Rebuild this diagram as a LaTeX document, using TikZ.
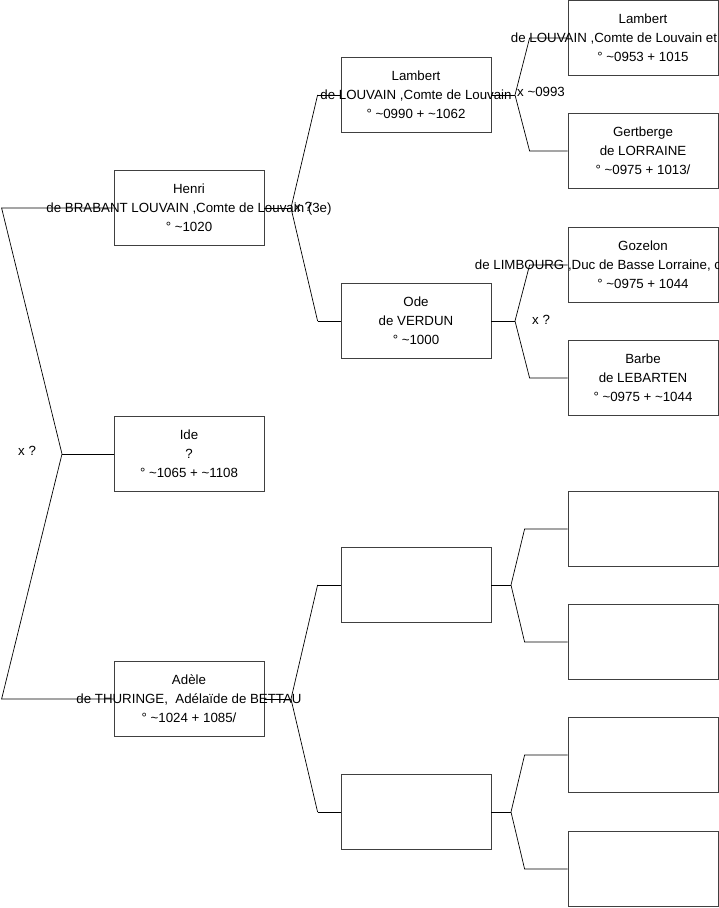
\documentclass[tikz,border=0pt]{standalone}
\usepackage{fontspec}
\setmainfont{Liberation Sans}
\usetikzlibrary{positioning}

\newcommand\pline[1]{\makebox[150pt]{#1}}

\begin{document}
\begin{tikzpicture}[x=1pt, y=-1pt,
    person/.style = {
      rectangle, draw=black!75, line width=0.8pt,
      minimum width=150pt, minimum height=75pt,
      inner sep=0pt, align=center,
      font=\fontsize{13.3}{19}\selectfont
    },
    link/.style    = {line width=0.7pt, color=black},
    mariage/.style = {anchor=west, inner sep=0pt, font=\fontsize{13.3}{15}\selectfont}
  ]

  \useasboundingbox (0,0) rectangle (719,908);

  % Column 1 -- x=189
  \node[person] at (189, 208) (henri) {\pline{Henri}\\\pline{de BRABANT LOUVAIN ,Comte de Louvain (3e)}\\\pline{° \textasciitilde1020}};
  \node[person] at (189, 454) (ide)   {\pline{Ide}\\\pline{?}\\\pline{° \textasciitilde1065 + \textasciitilde1108}};
  \node[person] at (189, 699) (adele) {\pline{Adèle}\\\pline{de THURINGE,\ \ Adélaïde de BETTAU}\\\pline{° \textasciitilde1024 + 1085/}};

  % Column 2 -- x=416
  \node[person] at (416,  95) (lambert) {\pline{Lambert}\\\pline{de LOUVAIN ,Comte de Louvain}\\\pline{° \textasciitilde0990 + \textasciitilde1062}};
  \node[person] at (416, 321) (ode)     {\pline{Ode}\\\pline{de VERDUN}\\\pline{° \textasciitilde1000}};
  \node[person] at (416, 585) (pa)      {};
  \node[person] at (416, 812) (pb)      {};

  % Column 3 -- x=643
  \node[person] at (643,  38) (lambertp) {\pline{Lambert}\\\pline{de LOUVAIN ,Comte de Louvain et\hspace{58pt}}\\\pline{° \textasciitilde0953 + 1015}};
  \node[person] at (643, 151) (gertberge) {\pline{Gertberge}\\\pline{de LORRAINE}\\\pline{° \textasciitilde0975 + 1013/}};
  \node[person] at (643, 265) (gozelon)  {\pline{Gozelon}\\\pline{de LIMBOURG ,Duc de Basse Lorraine, c\hspace{90pt}}\\\pline{° \textasciitilde0975 + 1044}};
  \node[person] at (643, 378) (barbe)    {\pline{Barbe}\\\pline{de LEBARTEN}\\\pline{° \textasciitilde0975 + \textasciitilde1044}};
  \node[person] at (643, 529) (qa) {};
  \node[person] at (643, 642) (qb) {};
  \node[person] at (643, 755) (qc) {};
  \node[person] at (643, 869) (qd) {};

  % Fork vertices
  \coordinate (f0) at (62, 454);
  \coordinate (f1) at (291, 208);
  \coordinate (f2) at (291, 699);
  \coordinate (f3) at (515, 95);
  \coordinate (f4) at (515, 321);
  \coordinate (f5) at (511, 585);
  \coordinate (f6) at (511, 812);

  % Links
  \draw[link] (henri.west) -- ([xshift=-112pt]henri.west) -- (f0)
              -- ([xshift=-112pt]adele.west) -- (adele.west);
  \draw[link] (f0) -- (ide.west);

  \draw[link] (henri.east) -- (f1);
  \draw[link] ([xshift=-23pt]lambert.west) -- (f1) -- ([xshift=-23pt]ode.west);
  \draw[link] ([xshift=-23pt]lambert.west) -- (lambert.west);
  \draw[link] ([xshift=-23pt]ode.west) -- (ode.west);

  \draw[link] (adele.east) -- (f2);
  \draw[link] ([xshift=-23pt]pa.west) -- (f2) -- ([xshift=-23pt]pb.west);
  \draw[link] ([xshift=-23pt]pa.west) -- (pa.west);
  \draw[link] ([xshift=-23pt]pb.west) -- (pb.west);

  \draw[link] (lambert.east) -- (f3);
  \draw[link] (lambertp.west) -- ([xshift=-38pt]lambertp.west) -- (f3)
              -- ([xshift=-38pt]gertberge.west) -- (gertberge.west);
  \draw[link] (ode.east) -- (f4);
  \draw[link] (gozelon.west) -- ([xshift=-38pt]gozelon.west) -- (f4)
              -- ([xshift=-38pt]barbe.west) -- (barbe.west);
  \draw[link] (pa.east) -- (f5);
  \draw[link] (qa.west) -- ([xshift=-43pt]qa.west) -- (f5)
              -- ([xshift=-43pt]qb.west) -- (qb.west);
  \draw[link] (pb.east) -- (f6);
  \draw[link] (qc.west) -- ([xshift=-43pt]qc.west) -- (f6)
              -- ([xshift=-43pt]qd.west) -- (qd.west);

  % Marriage labels
  \node[mariage] at (18, 451)  (m0) {x ?};
  \node[mariage] at (294, 207) (m1) {x ?};
  \node[mariage] at (517, 92)  (m3) {x \textasciitilde0993};
  \node[mariage] at (532, 320) (m4) {x ?};
\end{tikzpicture}
\end{document}
